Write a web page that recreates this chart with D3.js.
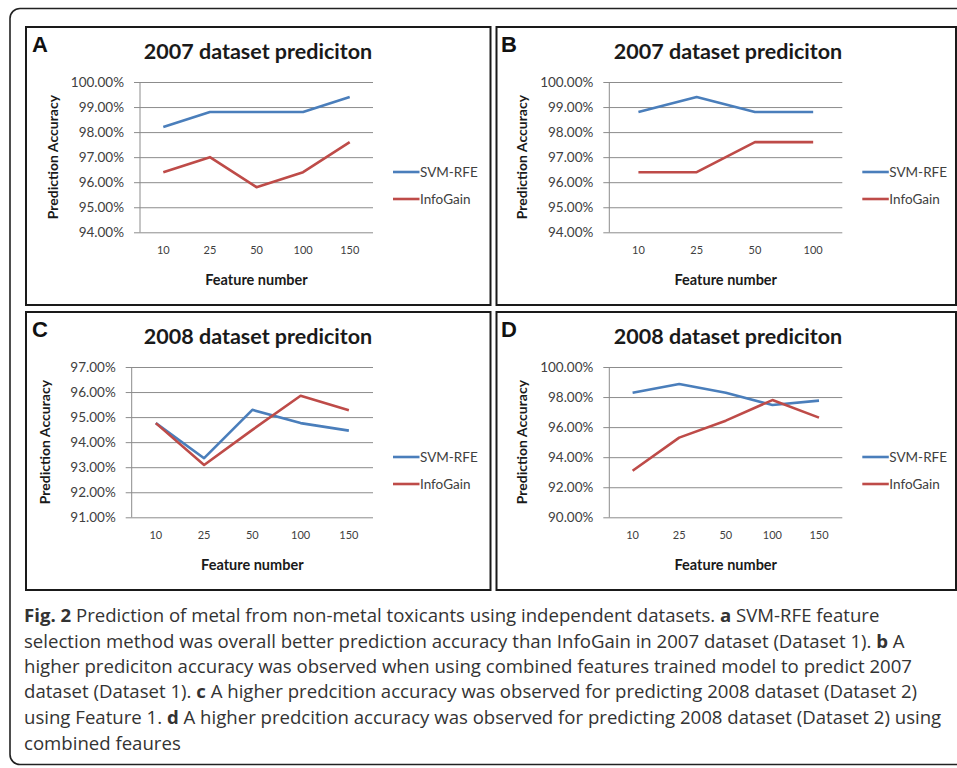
<!DOCTYPE html>
<html>
<head>
<meta charset="utf-8">
<script src="https://cdn.jsdelivr.net/npm/d3@7"></script>
<style>
  html, body { margin: 0; padding: 0; background: #fff; }
  svg { display: block; }
</style>
</head>
<body>
<svg id="fig" width="957" height="768"></svg>
<script>
// ---- data ----
const featuresFive = ["10", "25", "50", "100", "150"];
const featuresFour = ["10", "25", "50", "100"];

const svmA  = [98.2, 98.8, 98.8, 98.8, 99.4];
const infoA = [96.4, 97.0, 95.8, 96.4, 97.6];

const svmB  = [98.8, 99.4, 98.8, 98.8];
const infoB = [96.4, 96.4, 97.6, 97.6];

const svmC  = [94.76, 93.36, 95.29, 94.76, 94.46];
const infoC = [94.76, 93.09, 94.49, 95.85, 95.27];

const svmD  = [98.29, 98.87, 98.29, 97.47, 97.76];
const infoD = [93.1, 95.3, 96.43, 97.8, 96.63];

const ticks94to100 = [94, 95, 96, 97, 98, 99, 100];
const ticks91to97  = [91, 92, 93, 94, 95, 96, 97];
const ticks90to100 = [90, 92, 94, 96, 98, 100];

const seriesNames = ["SVM-RFE", "InfoGain"];
const seriesColors = ["#4a7ebb", "#be4b48"];

const captionLines = [
  [["Fig. 2", true], [" Prediction of metal from non-metal toxicants using independent datasets. ", false], ["a", true], [" SVM-RFE feature", false]],
  [["selection method was overall better prediction accuracy than InfoGain in 2007 dataset (Dataset 1). ", false], ["b", true], [" A", false]],
  [["higher prediciton accuracy was observed when using combined features trained model to predict 2007", false]],
  [["dataset (Dataset 1). ", false], ["c", true], [" A higher predcition accuracy was observed for predicting 2008 dataset (Dataset 2)", false]],
  [["using Feature 1. ", false], ["d", true], [" A higher predcition accuracy was observed for predicting 2008 dataset (Dataset 2) using", false]],
  [["combined feaures", false]]
];

// ---- drawing ----
const svg = d3.select("#fig");

// outer figure frame
svg.append("rect")
  .attr("x", 10).attr("y", 8.5).attr("width", 970).attr("height", 756)
  .attr("rx", 10).attr("ry", 10)
  .attr("fill", "none").attr("stroke", "#222").attr("stroke-width", 1.6);

const panels = [
  { letter: "A", title: "2007 dataset prediciton", cats: featuresFive, svm: svmA, info: infoA, ticks: ticks94to100,
    box: [26, 27, 490.5, 305], x0: 140, x1: 373, yTop: 82, yBot: 232.3, letterX: 32, titleX: 258 },
  { letter: "B", title: "2007 dataset prediciton", cats: featuresFour, svm: svmB, info: infoB, ticks: ticks94to100,
    box: [496.5, 27, 956, 305], x0: 609.3, x1: 842.3, yTop: 82, yBot: 232.3, letterX: 501, titleX: 728 },
  { letter: "C", title: "2008 dataset prediciton", cats: featuresFive, svm: svmC, info: infoC, ticks: ticks91to97,
    box: [26, 312, 490.5, 590], x0: 131.7, x1: 373, yTop: 367, yBot: 517.3, letterX: 32, titleX: 258 },
  { letter: "D", title: "2008 dataset prediciton", cats: featuresFive, svm: svmD, info: infoD, ticks: ticks90to100,
    box: [496.5, 312, 956, 590], x0: 609.3, x1: 842.3, yTop: 367, yBot: 517.3, letterX: 501, titleX: 728 }
];

const fmt = d => d.toFixed(2) + "%";

panels.forEach(p => {
  const g = svg.append("g");
  const [bx0, by0, bx1, by1] = p.box;

  g.append("rect")
    .attr("x", bx0).attr("y", by0).attr("width", bx1 - bx0).attr("height", by1 - by0)
    .attr("fill", "#fff").attr("stroke", "#1a1a1a").attr("stroke-width", 2);

  g.append("text")
    .attr("x", p.letterX).attr("y", by0 + 24.5)
    .attr("font-family", "Liberation Sans, Arial, sans-serif")
    .attr("font-weight", "bold")
    .attr("font-size", 22).attr("fill", "#111")
    .text(p.letter);

  g.append("text")
    .attr("x", p.titleX).attr("y", by0 + 32)
    .attr("text-anchor", "middle")
    .attr("font-family", "Lato, sans-serif").attr("font-weight", "bold")
    .attr("font-size", 21.5).attr("fill", "#1a1a1a")
    .text(p.title);

  const x = d3.scaleBand().domain(p.cats).range([p.x0, p.x1]).padding(0);
  const y = d3.scaleLinear().domain([p.ticks[0], p.ticks[p.ticks.length - 1]]).range([p.yBot, p.yTop]);

  // horizontal gridlines with percentage labels
  const yAxis = d3.axisLeft(y)
    .tickValues(p.ticks)
    .tickFormat(fmt)
    .tickSize(-(p.x1 - (p.x0 - 6)))
    .tickPadding(10);
  const ya = g.append("g").attr("transform", `translate(${p.x0 - 6},0)`).call(yAxis);
  ya.select(".domain").remove();
  ya.selectAll(".tick line").attr("stroke", "#8c8c8c").attr("stroke-width", 1);
  ya.selectAll(".tick text")
    .attr("font-family", "Lato, sans-serif").attr("font-size", 13.5).attr("fill", "#404040");

  // vertical axis line
  g.append("line")
    .attr("x1", p.x0).attr("x2", p.x0).attr("y1", p.yTop).attr("y2", p.yBot)
    .attr("stroke", "#8c8c8c").attr("stroke-width", 1);

  // category labels
  const xAxis = d3.axisBottom(x).tickSize(0).tickPadding(0);
  const xa = g.append("g").attr("transform", `translate(0,${p.yBot + 14})`).call(xAxis);
  xa.select(".domain").remove();
  xa.selectAll(".tick text")
    .attr("font-family", "Lato, sans-serif").attr("font-size", 11).attr("fill", "#404040");

  // axis titles
  g.append("text")
    .attr("x", (p.x0 + p.x1) / 2).attr("y", p.yBot + 52.5)
    .attr("text-anchor", "middle")
    .attr("font-family", "Lato, sans-serif").attr("font-weight", "bold")
    .attr("font-size", 14.5).attr("fill", "#1a1a1a")
    .text("Feature number");

  g.append("text")
    .attr("transform", `translate(${p.x0 - 82},${(p.yTop + p.yBot) / 2}) rotate(-90)`)
    .attr("text-anchor", "middle")
    .attr("font-family", "Lato, sans-serif").attr("font-weight", "bold")
    .attr("font-size", 14).attr("fill", "#1a1a1a")
    .text("Prediction Accuracy");

  // series lines
  const line = d3.line()
    .x((d, i) => x(p.cats[i]) + x.bandwidth() / 2)
    .y(d => y(d));
  [p.svm, p.info].forEach((vals, k) => {
    g.append("path")
      .datum(vals)
      .attr("d", line)
      .attr("fill", "none")
      .attr("stroke", seriesColors[k])
      .attr("stroke-width", 2.6)
      .attr("stroke-linejoin", "round");
  });

  // legend
  seriesNames.forEach((name, k) => {
    const ly = p.yTop + 90 + k * 27;
    g.append("line")
      .attr("x1", p.x1 + 20).attr("x2", p.x1 + 46.5)
      .attr("y1", ly).attr("y2", ly)
      .attr("stroke", seriesColors[k]).attr("stroke-width", 2.6);
    g.append("text")
      .attr("x", p.x1 + 47).attr("y", ly)
      .attr("dy", "0.35em")
      .attr("font-family", "Lato, sans-serif").attr("font-size", 13.5).attr("fill", "#404040")
      .text(name);
  });
});

// caption
const capBase = [621.7, 647.7, 673, 698.3, 724.3, 750];
captionLines.forEach((parts, i) => {
  const t = svg.append("text")
    .attr("x", 24).attr("y", capBase[i])
    .attr("font-family", "Open Sans, sans-serif")
    .attr("font-size", 18.6).attr("fill", "#333");
  parts.forEach(([s, bold]) => {
    t.append("tspan").attr("font-weight", bold ? "bold" : "normal").text(s);
  });
});
</script>
</body>
</html>
